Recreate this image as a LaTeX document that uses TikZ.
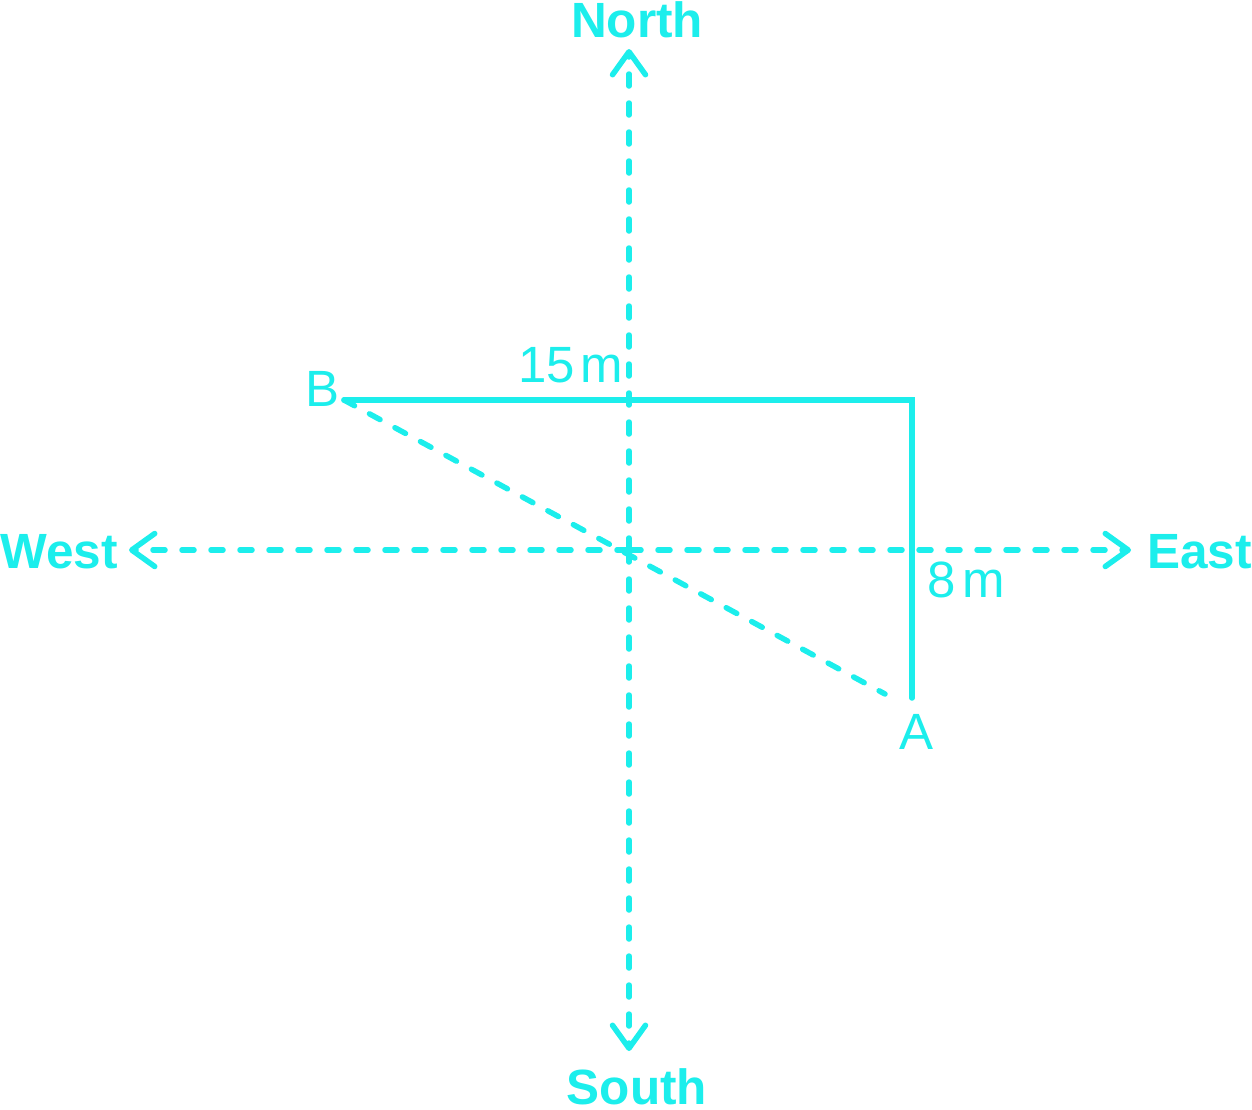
\documentclass[tikz,border=0pt]{standalone}
\usepackage{fontspec}
\setmainfont{Liberation Sans}
\usetikzlibrary{arrows.meta}
\definecolor{cy}{RGB}{28,238,236}
\tikzset{
  axis/.style={cy, line width=5.5pt, line cap=round, dash pattern=on 12pt off 17pt,
    -{Straight Barb[length=23pt,width=33pt,line width=5.5pt,round]}},
  solidline/.style={cy, line width=5.5pt, line cap=round, line join=miter},
  dashline/.style={cy, line width=5.5pt, line cap=round, dash pattern=on 12pt off 17pt},
  dir/.style={cy, inner sep=0pt, font=\fontsize{49.5}{50}\selectfont\bfseries},
  lbl/.style={cy, inner sep=0pt, font=\fontsize{51}{51}\selectfont},
}
\begin{document}
\begin{tikzpicture}[x=1pt,y=-1pt]
\useasboundingbox (0,0) rectangle (1252,1109);
\coordinate (O) at (629,550);
\coordinate (Ntip) at (629,49);
\coordinate (Stip) at (629,1051);
\coordinate (Wtip) at (129,550);
\coordinate (Etip) at (1131,550);
\coordinate (Bp) at (344,400);
\coordinate (Cp) at (912,400);
\coordinate (Ap) at (912,698);
\coordinate (Ad) at (885,694);
% axes
\draw[axis] (O) -- (Ntip);
\draw[axis] (O) -- (Stip);
\draw[axis] (O) -- (Wtip);
\draw[axis] (O) -- (Etip);
% path
\draw[solidline] (Bp) -- (Cp) -- (Ap);
\draw[dashline] (Bp) -- (Ad);
% labels
\node[dir, anchor=base] (north) at (637,37) {North};
\node[dir, anchor=base] (south) at (637,1104) {South};
\node[dir, anchor=base west] (west) at (0,568) {West};
\node[dir, anchor=base east] (east) at (1252,568) {East};
\node[lbl, anchor=base west] (bl) at (305,406) {B};
\node[lbl, anchor=base west] (al) at (899,749) {A};
\node[lbl, anchor=base west] (l15) at (518,382) {15\hspace{6pt}m};
\node[lbl, anchor=base west] (l8) at (927,597) {8\hspace{7pt}m};
\end{tikzpicture}
\end{document}
